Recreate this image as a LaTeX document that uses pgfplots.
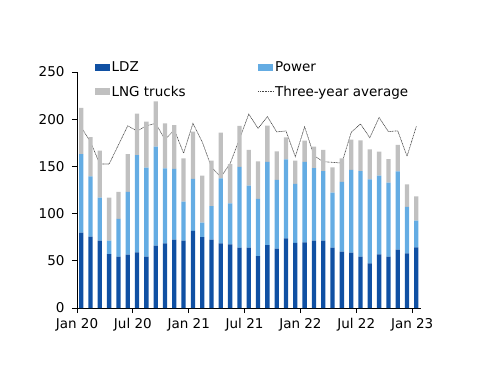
\documentclass[border=0pt]{standalone}
\usepackage{pgfplots}
\pgfplotsset{compat=1.18}
\usepackage{pgfplotstable}
\usepackage{fontspec}
\setmainfont{DejaVu Sans}
\definecolor{ldz}{RGB}{16,80,163}
\definecolor{power}{RGB}{100,172,227}
\definecolor{lng}{RGB}{192,192,192}
\definecolor{avgc}{RGB}{70,70,70}

\pgfplotstableread{
x ldz power lng avg
0 79.8 83.2 49.0 191.4
1 75.5 64.0 41.5 176.0
2 71.3 45.7 49.7 152.5
3 57.2 14.1 45.7 152.5
4 54.4 39.9 28.6 172.7
5 56.5 66.4 40.1 193.0
6 59.0 103.0 44.0 187.5
7 54.4 94.3 48.7 193.0
8 66.0 105.0 48.0 195.6
9 68.5 79.5 47.6 178.5
10 72.4 75.0 46.4 188.8
11 71.3 41.3 45.9 164.0
12 81.6 55.1 50.1 195.5
13 75.2 15.2 49.8 176.0
14 72.4 35.6 48.0 149.0
15 68.5 68.9 48.3 138.8
16 67.4 43.5 41.6 153.0
17 63.9 85.5 43.4 179.0
18 63.9 65.7 37.8 205.4
19 55.0 60.5 39.9 190.2
20 66.7 88.0 38.4 202.7
21 62.8 72.8 30.4 186.6
22 73.8 83.7 23.3 187.5
23 68.9 62.5 24.6 160.3
24 69.6 85.1 22.6 192.0
25 71.3 77.0 22.6 161.5
26 71.3 73.8 22.3 155.0
27 63.9 58.3 26.8 154.3
28 59.7 73.8 25.0 153.5
29 58.6 87.6 32.2 186.0
30 54.4 90.7 32.5 195.0
31 47.3 89.0 31.7 180.4
32 56.8 83.4 25.4 201.8
33 54.4 78.4 25.0 186.8
34 61.8 83.0 27.9 187.7
35 57.9 49.1 24.0 160.8
36 64.3 28.2 25.8 192.4
}\datatable

\begin{document}
\begin{tikzpicture}
\useasboundingbox (-77bp,-78bp) rectangle (423bp,308bp);
\begin{axis}[
  at={(0,0)}, anchor=south west,
  scale only axis,
  width=344bp, height=236bp,
  xmin=-0.45, xmax=36.5,
  ymin=0, ymax=250,
  ytick={0,50,100,150,200,250},
  xtick={-0.45,5.55,11.55,17.55,23.55,29.55,35.55},
  xticklabels={Jan 20,Jul 20,Jan 21,Jul 21,Jan 22,Jul 22,Jan 23},
  axis x line*=bottom, axis y line*=left,
  axis line style={black, line width=0.8pt, -},
  tick style={black, line width=0.8pt},
  tick align=outside,
  major tick length=5bp,
  tick label style={font=\fontsize{13.5bp}{15bp}\selectfont},
  /pgf/number format/assume math mode=true,
  yticklabel style={xshift=-4bp},
  xticklabel style={yshift=-2bp},
  ybar stacked,
  bar width=4.3bp,
  legend columns=2,
  legend cell align=left,
  legend style={at={(0.052,1.052)}, anchor=north west, draw=none, fill=none,
    font=\fontsize{13.5bp}{15bp}\selectfont, inner sep=0pt, row sep=10bp,
    nodes={inner sep=1.5bp}},
]
\addplot[fill=ldz, draw=none,
  legend image code/.code={\fill[ldz] (0bp,-3.5bp) rectangle (15bp,3.5bp);}]
  table[x=x, y=ldz] {\datatable};
\addlegendentry{\makebox[145bp][l]{LDZ}}
\addplot[fill=power, draw=none,
  legend image code/.code={\fill[power] (0bp,-3.5bp) rectangle (15bp,3.5bp);}]
  table[x=x, y=power] {\datatable};
\addlegendentry{Power}
\addplot[fill=lng, draw=none,
  legend image code/.code={\fill[lng] (0bp,-3.5bp) rectangle (15bp,3.5bp);}]
  table[x=x, y=lng] {\datatable};
\addlegendentry{\makebox[145bp][l]{LNG trucks}}
\addplot[stack plots=false, sharp plot, avgc, fill=none, line width=0.6pt, dash pattern=on 1pt off 0.6pt, mark=none,
  legend image code/.code={\draw[avgc, line width=0.6pt, dash pattern=on 1pt off 0.6pt] (0bp,0bp) -- (15bp,0bp);}]
  table[x=x, y=avg] {\datatable};
\addlegendentry{Three-year average}
\end{axis}
\end{tikzpicture}
\end{document}
